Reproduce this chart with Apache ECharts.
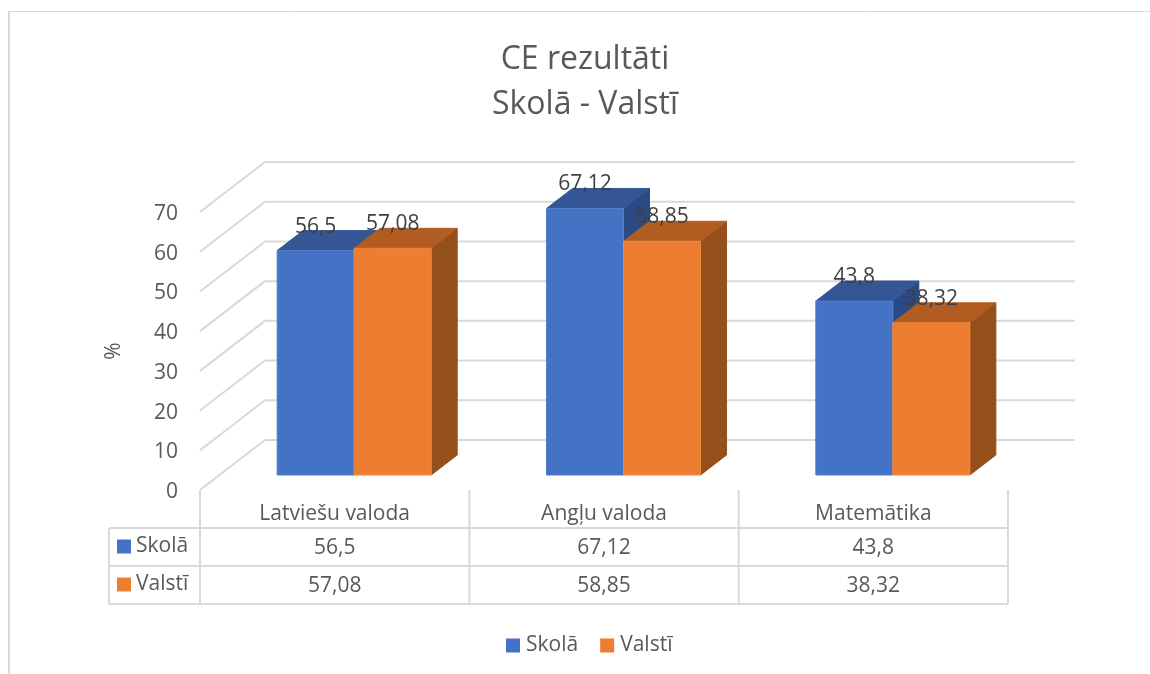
<!DOCTYPE html>
<html><head><meta charset="utf-8">
<style>html,body{margin:0;padding:0;background:#fff}#c{width:1150px;height:674px}</style>
<script src="https://cdn.jsdelivr.net/npm/echarts@6/dist/echarts.min.js"></script>
</head><body><div id="c"></div>
<script>
const categories = ['Latviešu valoda', 'Angļu valoda', 'Matemātika'];
const skola = [56.5, 67.12, 43.8];
const valsti = [57.08, 58.85, 38.32];
const yTicks = [0, 10, 20, 30, 40, 50, 60, 70];
const seriesNames = ['Skolā', 'Valstī'];
const FONT = '"Open Sans"';
const GRID = '#D9D9D9', TXT = '#595959';
const palette = [
  {face:'#4472C4', top:'#345694', side:'#2B4A85', edge:'#5580CB'},
  {face:'#ED7D31', top:'#B15C20', side:'#954F1A', edge:'#EE8844'}
];
const DX = 65, DY = -50;
const fmt = v => String(v).replace('.', ',');
const line = (x1,y1,x2,y2) => ({type:'line', shape:{x1,y1,x2,y2}, style:{stroke:GRID, lineWidth:2}, silent:true});

function renderWalls(params, api){
  const cs = params.coordSys, left = cs.x, right = cs.x + cs.width;
  const y = api.coord([0, api.value(0)])[1];
  return {type:'group', children:[
    line(left, y, left+DX, y+DY),
    line(left+DX, y+DY, right+DX+2, y+DY)
  ]};
}
function renderTable(params, api){
  const cs = params.coordSys, left = cs.x, right = cs.x + cs.width, y0 = cs.y + cs.height;
  const rows = [y0+38, y0+76, y0+114], xL = left-91;
  const band = cs.width / categories.length, ch = [];
  for (let i=0;i<=categories.length;i++) ch.push(line(left+band*i, y0, left+band*i, rows[2]));
  ch.push(line(xL, rows[0], xL, rows[2]));
  rows.forEach(r => ch.push(line(xL, r, right, r)));
  [skola, valsti].forEach((arr, s) => {
    const cy = (rows[s]+rows[s+1])/2;
    ch.push({type:'rect', shape:{x:left-83, y:cy-7.5, width:14, height:14}, style:{fill:palette[s].face}});
    ch.push({type:'text', style:{text:seriesNames[s], x:left-64, y:cy-1, align:'left', verticalAlign:'middle', fill:TXT, font:'21px '+FONT}});
    arr.forEach((v,i) => ch.push({type:'text', style:{text:fmt(v), x:left+band*(i+.5), y:cy+1, align:'center', verticalAlign:'middle', fill:TXT, font:'21px '+FONT}}));
  });
  return {type:'group', children:ch};
}
function barRenderer(s){
  return function(params, api){
    const cat = api.value(0), val = api.value(1);
    const band = api.size([1,0])[0];
    const w = band * 0.286;
    const cx = api.coord([cat, val])[0];
    const oX = DX*0.3, oY = DY*0.3, dX = DX*0.4, dY = DY*0.4;
    const xF = cx + oX - w + s*w;
    const top = api.coord([cat, val])[1] + oY;
    const bot = api.coord([cat, 0])[1] + oY;
    const c = palette[s];
    const poly = (pts, fill, stroke) => ({type:'polygon', shape:{points:pts}, style:{fill, stroke:stroke||fill, lineWidth:1}});
    return {type:'group', children:[
      poly([[xF+w,top],[xF+w+dX,top+dY],[xF+w+dX,bot+dY],[xF+w,bot]], c.side),
      poly([[xF,top],[xF+dX,top+dY],[xF+w+dX,top+dY],[xF+w,top]], c.top),
      {type:'rect', shape:{x:xF, y:top, width:w, height:bot-top}, style:{fill:c.face, stroke:c.edge, lineWidth:1}},
      {type:'text', z2:10, style:{text:fmt(val), x:xF+w/2, y:top-24, align:'center', verticalAlign:'middle', fill:'#404040', font:'21px '+FONT}}
    ]};
  };
}
const chart = echarts.init(document.getElementById('c'), null, {renderer:'canvas'});
chart.setOption({
  animation:false,
  backgroundColor:'#fff',
  graphic:[
    {type:'line', silent:true, shape:{x1:9,y1:674,x2:9,y2:11}, style:{stroke:GRID, lineWidth:2}},
    {type:'line', silent:true, shape:{x1:8,y1:11.5,x2:1150,y2:11.5}, style:{stroke:GRID, lineWidth:1}}
  ],
  title:{text:'CE rezultāti\nSkolā - Valstī', left:580, top:32, textAlign:'center',
    textStyle:{fontFamily:FONT, fontSize:32, fontWeight:'normal', color:TXT, lineHeight:45}},
  legend:{data:seriesNames, left:501, top:630, itemWidth:14, itemHeight:14, itemGap:22, icon:'rect',
    textStyle:{fontFamily:FONT, fontSize:21, color:TXT, padding:[0,0,0,1]}},
  grid:{left:200, right:142, top:212, height:278, containLabel:false},
  xAxis:{type:'category', data:categories, axisLine:{show:false}, axisTick:{show:false},
    axisLabel:{margin:14, color:TXT, fontFamily:FONT, fontSize:21}},
  yAxis:{type:'value', min:0, max:70, interval:10, name:'%', nameLocation:'middle', nameGap:75, nameRotate:90,
    nameTextStyle:{color:TXT, fontFamily:FONT, fontSize:21},
    axisLine:{show:false}, axisTick:{show:false}, splitLine:{show:false},
    axisLabel:{margin:22, color:TXT, fontFamily:FONT, fontSize:21, verticalAlign:'top', lineHeight:4}},
  series:[
    {type:'custom', name:'walls', silent:true, z:1, data:yTicks.map(v=>[v]), encode:{y:0}, renderItem:renderWalls},
    {type:'custom', name:'table', silent:true, z:1, data:[[0]], renderItem:renderTable},
    {type:'custom', name:seriesNames[0], z:2, itemStyle:{color:palette[0].face}, data:skola.map((v,i)=>[i,v]), encode:{x:0,y:1}, renderItem:barRenderer(0)},
    {type:'custom', name:seriesNames[1], z:3, itemStyle:{color:palette[1].face}, data:valsti.map((v,i)=>[i,v]), encode:{x:0,y:1}, renderItem:barRenderer(1)}
  ]
});
</script></body></html>
